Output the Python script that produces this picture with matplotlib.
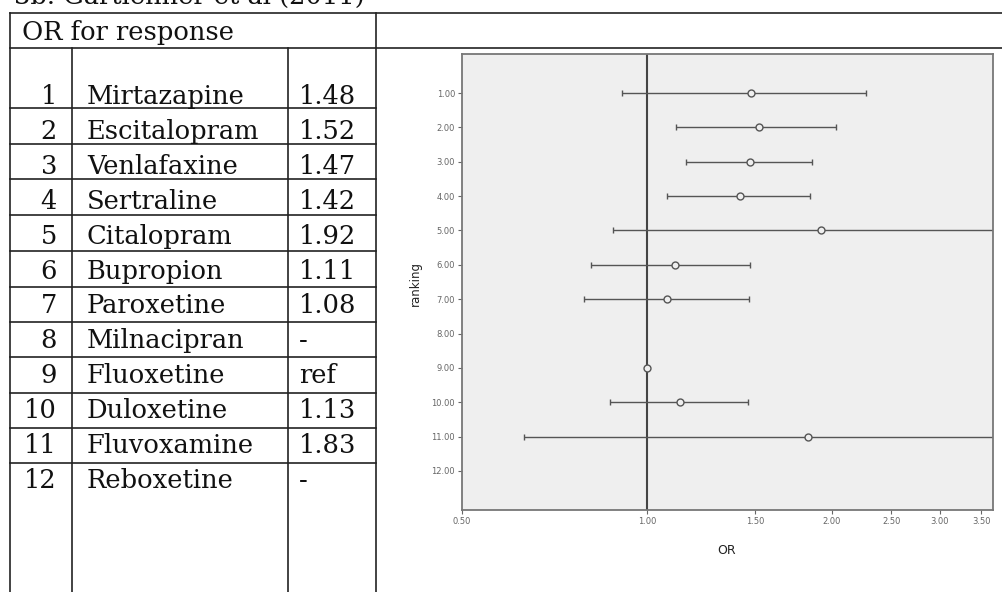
import numpy as np
import matplotlib
matplotlib.use("Agg")
import matplotlib.pyplot as plt
from matplotlib.lines import Line2D

# ---------------- data ----------------
ranks = [1, 2, 3, 4, 5, 6, 7, 8, 9, 10, 11, 12]
drugs = ["Mirtazapine", "Escitalopram", "Venlafaxine", "Sertraline", "Citalopram",
         "Bupropion", "Paroxetine", "Milnacipran", "Fluoxetine", "Duloxetine",
         "Fluvoxamine", "Reboxetine"]
or_labels = ["1.48", "1.52", "1.47", "1.42", "1.92", "1.11", "1.08", "-", "ref",
             "1.13", "1.83", "-"]
or_values = [1.48, 1.52, 1.47, 1.42, 1.92, 1.11, 1.08, np.nan, 1.00, 1.13, 1.83, np.nan]
ci_lower = [0.91, 1.115, 1.16, 1.08, 0.88, 0.81, 0.79, np.nan, np.nan, 0.87, 0.63, np.nan]
ci_upper = [2.27, 2.03, 1.86, 1.84, 4.5, 1.47, 1.465, np.nan, np.nan, 1.46, 5.3, np.nan]
x_ticks = [0.5, 1.0, 1.5, 2.0, 2.5, 3.0, 3.5]
x_ticklabels = ["0.50", "1.00", "1.50", "2.00", "2.50", "3.00", "3.50"]
y_ticklabels = ["%.2f" % r for r in ranks]

W, H = 1003, 592
fig = plt.figure(figsize=(W / 100, H / 100), dpi=100)
fig.patch.set_facecolor("white")

def fx(px):
    return px / W

def fy(py):
    return 1 - py / H

def hline(y, x0, x1, lw=1.2, c="#222222"):
    fig.add_artist(Line2D([fx(x0), fx(x1)], [fy(y), fy(y)], lw=lw, color=c))

def vline(x, y0, y1, lw=1.2, c="#222222"):
    fig.add_artist(Line2D([fx(x), fx(x)], [fy(y0), fy(y1)], lw=lw, color=c))

serif = "DejaVu Serif"
fs = 18.5

# title, cut off at the top edge as in the reference
fig.text(fx(14), fy(4), "3b. Gartlehner et al (2011)", fontsize=fs, family=serif,
         ha="left", va="baseline", color="#111111")

# table frame
hline(13, 10, 1003)
hline(48, 10, 1003)
row_lines = [108, 144, 179, 215, 251, 287, 322, 357, 393, 428, 463]
for y in row_lines:
    hline(y, 10, 376)
vline(10, 13, 592)
vline(376, 13, 592)
vline(72, 48, 592)
vline(288, 48, 592)

fig.text(fx(22), fy(40), "OR for response", fontsize=fs, family=serif,
         ha="left", va="baseline", color="#111111")

for i, (r, d, o) in enumerate(zip(ranks, drugs, or_labels)):
    base = 94.5 + i * 34.9 + 9.5
    fig.text(fx(57), fy(base), str(r), fontsize=fs, family=serif,
             ha="right", va="baseline", color="#111111")
    fig.text(fx(87), fy(base), d, fontsize=fs, family=serif,
             ha="left", va="baseline", color="#111111")
    fig.text(fx(299), fy(base), o, fontsize=fs, family=serif,
             ha="left", va="baseline", color="#111111")

# forest plot
L, R, T, B = 462, 993, 54, 510
ax = fig.add_axes([fx(L), fy(B), fx(R - L), (B - T) / H])
ax.set_facecolor("#efefef")
ax.set_xscale("log")
ax.set_xlim(0.5, 3.66)
ax.set_ylim(13.135, -0.135)

ax.axvline(1.0, color="#444444", lw=1.5, zorder=1)

orv = np.array(or_values, dtype=float)
lo = np.array(ci_lower, dtype=float)
hi = np.array(ci_upper, dtype=float)
yr = np.array(ranks, dtype=float)
has_ci = ~np.isnan(lo)
ax.errorbar(orv[has_ci], yr[has_ci],
            xerr=[orv[has_ci] - lo[has_ci], hi[has_ci] - orv[has_ci]],
            fmt="none", ecolor="#555555", elinewidth=1.0, capsize=2.5,
            capthick=1.0, zorder=2)
ax.plot(orv, yr, "o", ms=5, mfc="#efefef", mec="#555555", mew=1.0, zorder=3)

ax.set_xticks(x_ticks)
ax.set_xticklabels(x_ticklabels)
ax.xaxis.set_minor_locator(matplotlib.ticker.NullLocator())
ax.set_yticks(ranks)
ax.set_yticklabels(y_ticklabels)
ax.tick_params(axis="both", labelsize=6, colors="#666666", length=3, width=0.8,
               pad=2)
for s in ax.spines.values():
    s.set_color("#777777")
    s.set_linewidth(1.3)

fig.text(fx(415), fy(283), "ranking", rotation=90, fontsize=8.5, family="DejaVu Sans",
         ha="center", va="center", color="#222222")
fig.text(fx(727), fy(550), "OR", fontsize=9, family="DejaVu Sans",
         ha="center", va="center", color="#222222")

fig.savefig("out.png", dpi=100)
